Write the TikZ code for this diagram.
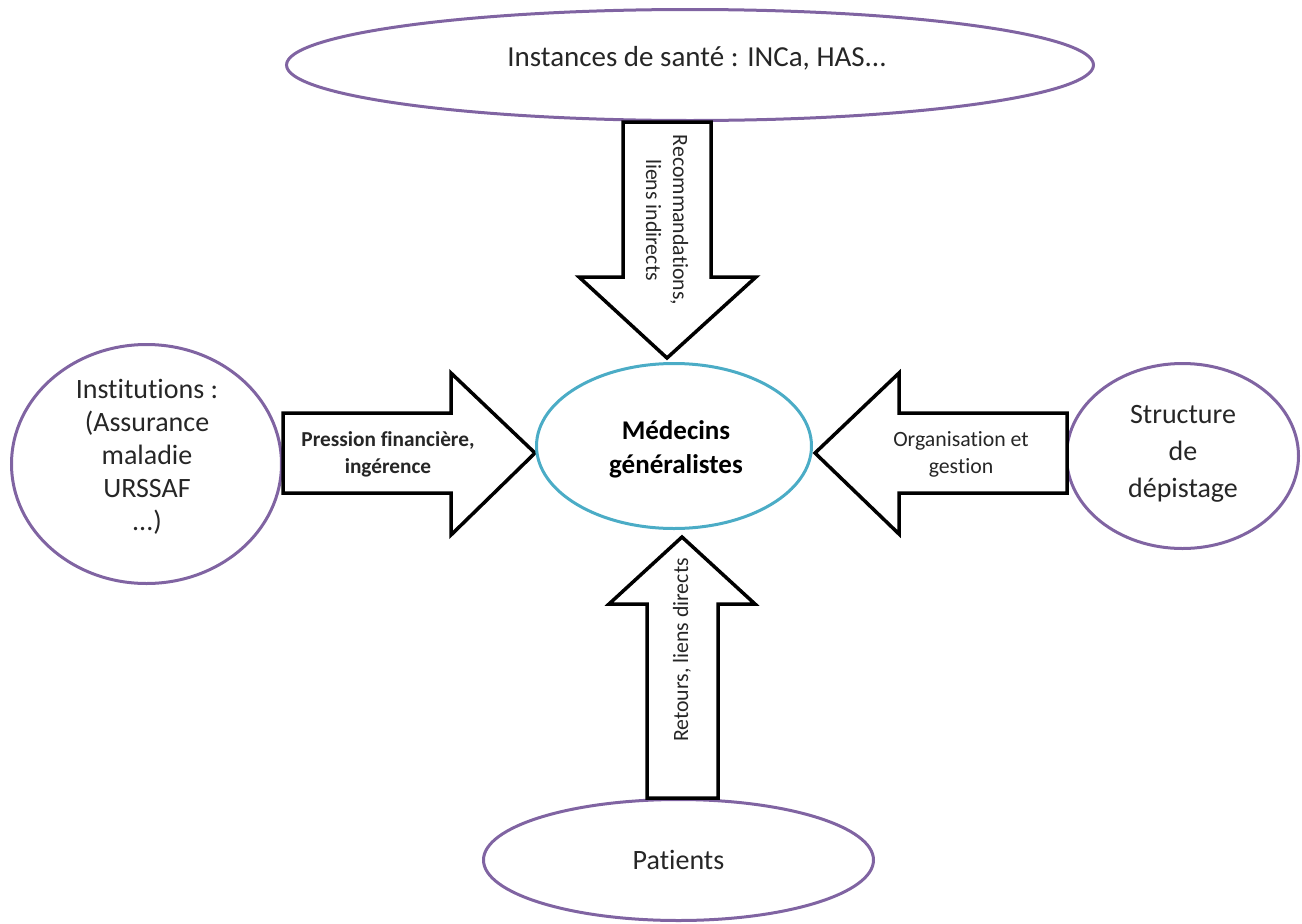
\documentclass[tikz,border=0pt]{standalone}
\usepackage{fontspec}
\setmainfont{Carlito}[Ligatures=NoCommon]
\usetikzlibrary{shapes.geometric}
\definecolor{purp}{HTML}{8064A2}
\definecolor{cyanb}{HTML}{4BACC6}
\definecolor{txt}{HTML}{262626}
\begin{document}
\begin{tikzpicture}[x=1pt,y=-1pt,
  outer/.style={ellipse, draw=purp, line width=3pt, inner sep=0pt, text=txt,
    font=\fontsize{28}{34}\selectfont, align=center},
  inner/.style={ellipse, draw=cyanb, line width=3pt, inner sep=0pt, text=black,
    font=\fontsize{27}{34}\selectfont\bfseries, align=center},
  blockarrow/.style={draw=black, line width=3.5pt, fill=white, line join=miter},
  lbl/.style={font=\fontsize{21.8}{27}\selectfont, align=center, text=txt, inner sep=0pt},
  boldlbl/.style={font=\fontsize{21.3}{27}\selectfont\bfseries, align=center, text=txt, inner sep=0pt}]
\useasboundingbox (0,0) rectangle (1302,924);

% outer actors
\node[outer, minimum width=807, minimum height=111] (inst) at (690,65) {};
\node[outer, draw=none, font=\fontsize{29}{34}\selectfont] (instT) at (697,58) {Instances de santé : INCa, HAS...};
\node[outer, minimum width=270, minimum height=239] (instit) at (146.5,464) {};
\node[outer, draw=none, font=\fontsize{28}{33}\selectfont] (institT) at (147,457)
  {Institutions :\\(Assurance\\maladie\\URSSAF\\...)};
\node[outer, minimum width=232, minimum height=185] (struct) at (1182.5,456) {};
\node[outer, draw=none, font=\fontsize{28}{37}\selectfont] (structT) at (1183,454)
  {Structure\\de\\dépistage};
\node[outer, minimum width=390, minimum height=121] (pat) at (678.5,860) {Patients};

% block arrows
\draw[blockarrow] (623,122) -- (711,122) -- (711,277) -- (756,277) -- (667,358)
  -- (579,277) -- (623,277) -- cycle;
\draw[blockarrow] (283,413) -- (451,413) -- (451,373) -- (535,453) -- (451,535)
  -- (451,493) -- (283,493) -- cycle;
\draw[blockarrow] (1067,413) -- (899,413) -- (899,373) -- (815,453) -- (899,534)
  -- (899,493) -- (1067,493) -- cycle;
\draw[blockarrow] (647,798) -- (647,604) -- (609,604) -- (682,537) -- (755,604)
  -- (718,604) -- (718,798) -- cycle;

% centre
\node[inner, minimum width=275, minimum height=165] (med) at (674,446) {};
\node[inner, draw=none] (medT) at (676,449) {Médecins\\généralistes};

% arrow labels
\node[lbl, rotate=-90] (lTop) at (667,220) {Recommandations,\\liens indirects};
\node[boldlbl] (lLeft) at (388,454) {Pression financière,\\ingérence};
\node[lbl] (lRight) at (961,454) {Organisation et\\gestion};
\node[lbl, rotate=90] (lBot) at (682,650) {Retours, liens directs};
\end{tikzpicture}
\end{document}
